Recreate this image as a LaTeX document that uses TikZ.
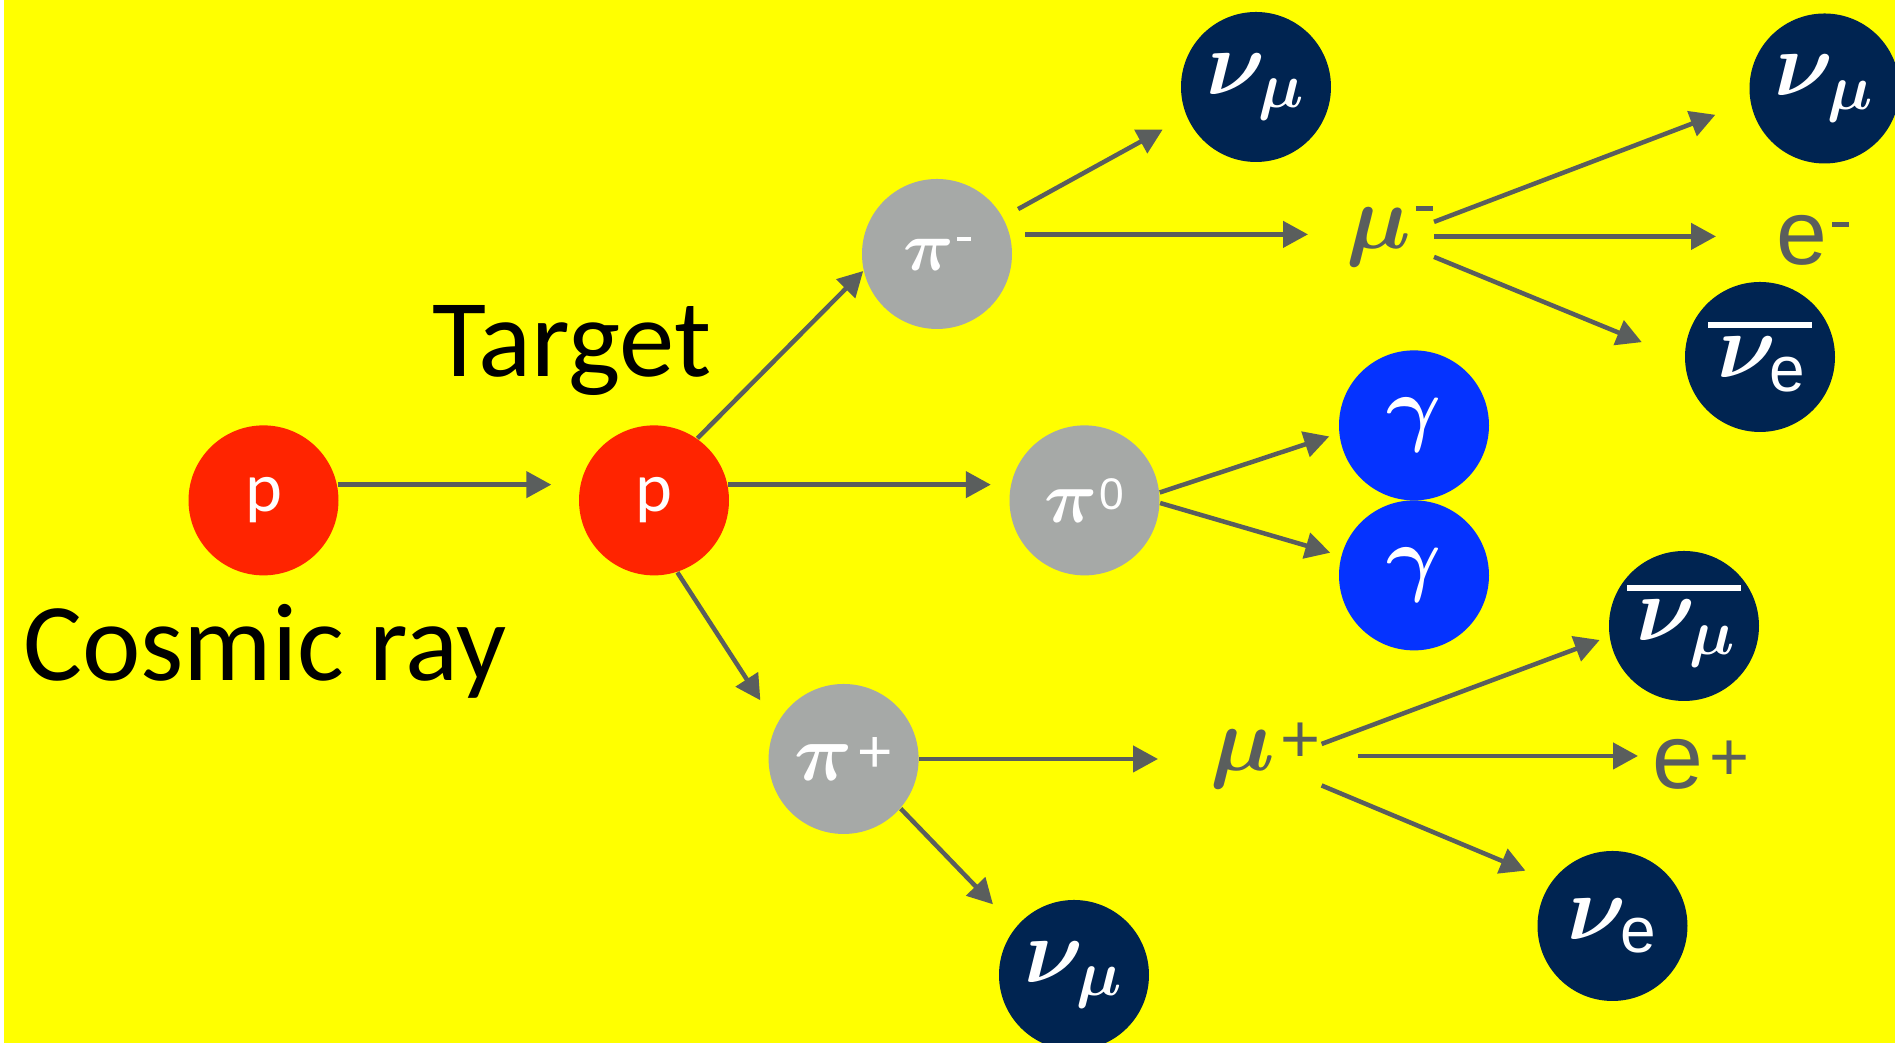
\RequirePackage{fix-cm}
\documentclass[tikz,border=0pt]{standalone}
\usepackage{amsmath}
\usepackage{fontspec}
\usepackage{graphicx}
\usepackage{xcolor}
\setmainfont{Carlito}
\newfontfamily\arialfont{Liberation Sans}
\usetikzlibrary{arrows.meta, positioning, calc}
\definecolor{bgyellow}{RGB}{255, 255, 0}
\definecolor{protonred}{RGB}{255, 36, 0}
\definecolor{piongray}{RGB}{166, 169, 167}
\definecolor{nunavy}{RGB}{0, 36, 81}
\definecolor{gammablue}{RGB}{5, 51, 255}
\definecolor{arrowgray}{RGB}{90, 94, 93}
\newcommand{\supminus}{\kern0.05em\rule[0.42em]{0.19em}{0.05em}}
\newcommand{\supplus}{\kern0.06em\raisebox{0.09em}{\scalebox{0.75}{\arialfont +}}}
\newcommand{\supzero}{\kern0.03em\raisebox{0.17em}{\scalebox{0.6}{\arialfont 0}}}
\newcommand{\antinu}[1]{\vbox{\hrule height 0.07em\kern0.1em\hbox{\kern0.1em$\nu_{#1}$\kern0.05em}}}

\begin{document}
\begin{tikzpicture}[
    proton/.style={circle, fill=protonred, minimum size=1.5cm, inner sep=0pt, text=white, font=\fontsize{20}{24}\selectfont},
    pion/.style={circle, fill=piongray, minimum size=1.5cm, inner sep=0pt, text=white, font=\fontsize{20}{24}\selectfont\boldmath},
    neutrino/.style={circle, fill=nunavy, minimum size=1.5cm, inner sep=0pt, text=white, font=\fontsize{26}{30}\selectfont\boldmath},
    photon/.style={circle, fill=gammablue, minimum size=1.5cm, inner sep=0pt, text=white, font=\fontsize{24}{28}\selectfont\boldmath},
    lepton/.style={anchor=base west, inner sep=0pt, text=arrowgray, font=\fontsize{26}{30}\selectfont\boldmath},
    caption/.style={anchor=base, inner sep=0pt, font=\fontsize{31.5}{37}\selectfont},
    arr/.style={-{Triangle[length=2.5mm, width=2.6mm]}, line width=0.45mm, draw=arrowgray}
]
    % Page
    \useasboundingbox (0,0) rectangle (18.95,10.43);
    \clip (0,0) rectangle (18.95,10.43);
    \fill[white] (0,0) rectangle (18.95,10.43);
    \fill[bgyellow] (0.04,0) rectangle (18.95,10.43);

    % Incoming proton and target
    \node[proton] (p1) at (2.635, 5.426) {p};
    \node[proton] (p2) at (6.54, 5.426) {p};
    \node[caption] (cosmic) at (2.65, 3.62) {Cosmic ray};
    \node[caption] (target) at (5.72, 6.66) {Target};

    % Pions
    \node[pion, font=\fontsize{20}{24}\selectfont\boldmath] (pim) at (9.37, 7.89) {$\pi$\supminus};
    \node[pion, font=\fontsize{21}{25}\selectfont\boldmath] (pi0) at (10.845, 5.426) {$\pi$\supzero};
    \node[pion, font=\fontsize{23}{27}\selectfont\boldmath] (pip) at (8.436, 2.84) {$\pi$\supplus};

    % Muons and electrons
    \node[lepton] (mum) at (13.46, 7.94) {$\mu$\supminus};
    \node[lepton] (mup) at (12.10, 2.72) {$\mu$\supplus};
    \node[lepton] (em) at (17.76, 7.78) {\arialfont e\supminus};
    \node[lepton] (ep) at (16.52, 2.54) {\arialfont e\supplus};

    % Neutrinos and photons
    \node[neutrino] (numuA) at (12.56, 9.56) {$\nu_\mu$};
    \node[neutrino] (numuB) at (18.245, 9.545) {$\nu_\mu$};
    \node[neutrino] (nuebar) at (17.60, 6.86) {\antinu{\text{\arialfont e}}};
    \node[neutrino] (numubar) at (16.84, 4.17) {\antinu{\mu}};
    \node[neutrino] (nue) at (16.125, 1.17) {$\nu_{\text{\arialfont e}}$};
    \node[neutrino] (numuC) at (10.74, 0.68) {$\nu_\mu$};
    \node[photon] (gamA) at (14.14, 6.176) {$\gamma$};
    \node[photon] (gamB) at (14.14, 4.676) {$\gamma$};

    % Proton collision
    \draw[arr, shorten >=2.7mm] (p1.12) -- (p1.12 -| p2.west);
    \draw[arr, shorten >=1.8mm] (p2.12) -- (p2.12 -| pi0.west);
    \draw[arr] (p2.55) -- (pim.193);
    \draw[arr, shorten >=2.9mm] (p2.288) -- (pip.153);

    % Pion decays
    \draw[arr, shorten <=1.7mm, shorten >=2.7mm] (pim.29) -- (numuA.203);
    \draw[arr, shorten <=1.5mm, shorten >=3.8mm] (pim.15) -- (pim.15 -| mum.west);
    \draw[arr, shorten >=1mm] (pi0.6) -- (gamA.186);
    \draw[arr, shorten >=1.1mm] (pi0.358) -- (gamB.165);
    \draw[arr, shorten >=5.2mm] (pip.east) -- (pip.east -| mup.west);
    \draw[arr, shorten >=3.2mm] (pip.319) -- (numuC.141);

    % Muon decays
    \coordinate (mumhi) at ([xshift=0mm, yshift=1.45mm]mum.east);
    \coordinate (mummid) at (mum.east);
    \coordinate (mumlo) at ([xshift=0mm, yshift=-2.05mm]mum.east);
    \draw[arr, shorten >=3.7mm] (mumhi) -- (numuB.190);
    \draw[arr, shorten >=6mm] (mummid) -- (mummid -| em.west);
    \draw[arr, shorten >=4.6mm] (mumlo) -- (nuebar.182);

    \coordinate (muphi) at ([xshift=0mm, yshift=1.2mm]mup.east);
    \coordinate (mupmid) at ([xshift=3.6mm]mup.east);
    \coordinate (muplo) at ([xshift=0mm, yshift=-2.95mm]mup.east);
    \draw[arr, shorten >=1mm] (muphi) -- (numubar.188);
    \draw[arr, shorten >=1.4mm] (mupmid) -- (mupmid -| ep.west);
    \draw[arr, shorten >=2.8mm] (muplo) -- (nue.144);
\end{tikzpicture}
\end{document}
